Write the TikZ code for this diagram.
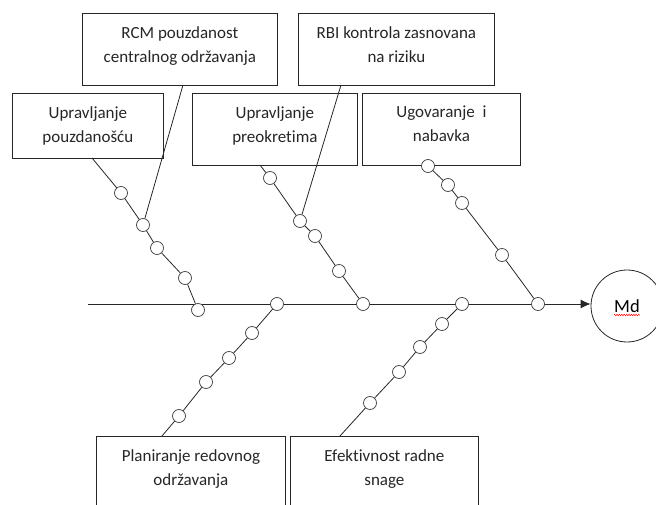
\documentclass[tikz,border=0pt]{standalone}
\usepackage{fontspec}
\setmainfont{Carlito}[Ligatures=NoCommon]
\usetikzlibrary{positioning}
\usetikzlibrary{arrows.meta}
\usetikzlibrary{backgrounds}
\usetikzlibrary{decorations.pathmorphing}
\tikzset{causebox/.style={draw=black!85, anchor=north west, inner sep=0pt, line width=0.8pt},
  causetext/.style={align=center, inner sep=0pt, text=black!85, font=\fontsize{17}{24}\selectfont},
  joint/.style={circle, draw=black!75, fill=white, minimum size=13pt, inner sep=0pt, line width=0.7pt},
  bone/.style={draw=black!85, line width=0.8pt}}

\begin{document}
\begin{tikzpicture}[x=1pt,y=-1pt]
	\useasboundingbox (0,0) rectangle (656,505);
	% cause boxes
	\node[causebox, minimum width=195pt, minimum height=72pt] (rcm) at (82,13) {};
	\node[causebox, minimum width=196pt, minimum height=72pt] (rbi) at (298,13) {};
	\node[causebox, minimum width=151pt, minimum height=65pt] (uppo) at (12,93) {};
	\node[causebox, minimum width=165pt, minimum height=72pt] (uppr) at (192,93) {};
	\node[causebox, minimum width=158pt, minimum height=72pt] (ugov) at (362,93) {};
	\node[causebox, minimum width=189pt, minimum height=90pt] (plan) at (96,436) {};
	\node[causebox, minimum width=188pt, minimum height=90pt] (efek) at (290,436) {};
	\node[causetext, below=13pt of rcm.north] (rcmtxt) {RCM pouzdanost\\centralnog održavanja};
	\node[causetext, below=13pt of rbi.north] (rbitxt) {RBI kontrola zasnovana\\na riziku};
	\node[causetext, below=13pt of uppo.north] (uppotxt) {Upravljanje\\pouzdanošću};
	\node[causetext, below=13pt of uppr.north] (upprtxt) {Upravljanje\\preokretima};
	\node[causetext, below=13pt of ugov.north] (ugovtxt) {Ugovaranje~ i\\nabavka};
	\node[causetext, below=13pt of plan.north] (plantxt) {Planiranje redovnog\\održavanja};
	\node[causetext, below=13pt of efek.north] (efektxt) {Efektivnost radne\\snage};
	% effect
	\node[circle, draw=black!85, line width=0.8pt, minimum size=72pt, inner sep=0pt, font=\fontsize{18.5}{20}\selectfont] (md) at (627,306) {Md};
	\draw[red, line width=0.5pt, decorate, decoration={zigzag, amplitude=0.8pt, segment length=2.4pt}] ([xshift=-13pt,yshift=-9pt]md.center) -- ([xshift=13pt,yshift=-9pt]md.center);
	% joints
	\foreach \n/\p in {s1/{198,310}, s2/{277,304}, s3/{363,304}, s4/{462,304}, s5/{538,304},
		a1/{121,193}, a2/{143,225}, a3/{157,248}, a4/{185,278},
		b1/{270,178}, b2/{300,221}, b3/{315,236}, b4/{339,271},
		c1/{428,166}, c2/{448,185}, c3/{462,203}, c4/{502,255},
		d1/{179,416}, d2/{206,382}, d3/{229,358}, d4/{252,333},
		e1/{370,403}, e2/{399,372}, e3/{420,347}, e4/{442,324}}
		\node[joint] (\n) at (\p) {};
	\coordinate (spstart) at (88,304);
	\coordinate (uppofoot) at (92,158);
	\coordinate (rcmfoot) at (183,85);
	\coordinate (upprfoot) at (260,165);
	\coordinate (rbifoot) at (341,85);
	\coordinate (planfoot) at (162,436);
	\coordinate (efekfoot) at (340,436);
	\begin{scope}[on background layer]
		\draw[bone, -{Latex[length=10pt,width=9pt]}] (spstart) -- (spstart -| md.west);
		\draw[bone] (uppofoot) -- (a1) -- (a2) -- (a3) -- (a4) -- (s1);
		\draw[bone] (rcmfoot) -- (a2);
		\draw[bone] (upprfoot) -- (b1) -- (b2) -- (b3) -- (b4) -- (s3);
		\draw[bone] (rbifoot) -- (b2);
		\draw[bone] (c1) -- (c2) -- (c3) -- (c4) -- (s5);
		\draw[bone] (planfoot) -- (d1) -- (d2) -- (d3) -- (d4) -- (s2);
		\draw[bone] (efekfoot) -- (e1) -- (e2) -- (e3) -- (e4) -- (s4);
	\end{scope}
\end{tikzpicture}
\end{document}
